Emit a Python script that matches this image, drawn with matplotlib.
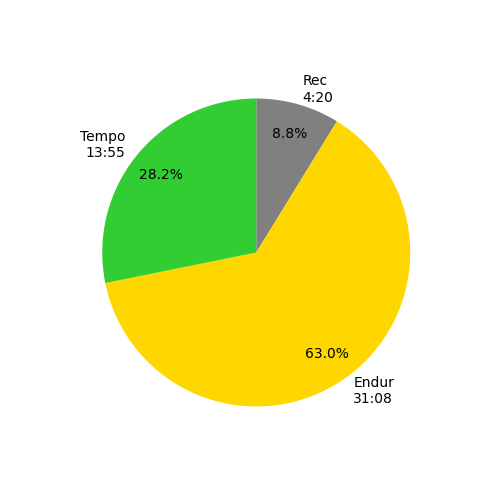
import matplotlib
matplotlib.use("Agg")
import matplotlib.pyplot as plt

# Time in each zone (mm:ss)
zones = ["Rec", "Endur", "Tempo"]
times = ["4:20", "31:08", "13:55"]
colors = ["grey", "gold", "limegreen"]

seconds = [int(t.split(":")[0]) * 60 + int(t.split(":")[1]) for t in times]
labels = [f"{z}\n{t}" for z, t in zip(zones, times)]

fig, ax = plt.subplots(figsize=(5, 5), dpi=100)
ax.pie(seconds, labels=labels, colors=colors, autopct="%1.1f%%",
       pctdistance=0.8, startangle=90, counterclock=False)
fig.savefig("out.png")
